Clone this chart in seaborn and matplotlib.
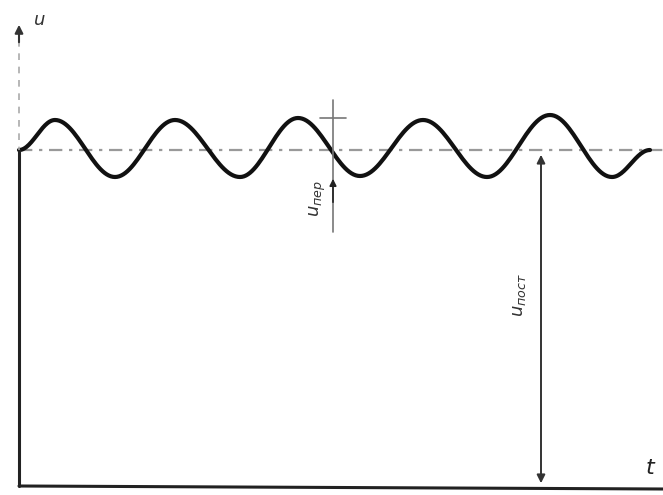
import numpy as np
import pandas as pd
import matplotlib.pyplot as plt
import seaborn as sns

# extrema of the ripple curve (picture coordinates, y grows downward)
ext_x = [19, 55, 115, 175, 240, 298, 360, 423, 487, 550, 612, 650]
ext_y = [150, 120, 177, 120, 177, 118, 176, 120, 177, 115, 177, 150]

base_y = 150       # u_пост level
axis_y = 486       # time axis
axis_x = 19        # voltage axis
per_x = 333        # u_пер marker
post_x = 541       # u_пост marker

# half-cosine segments between the read-off extrema
xs, ys = [], []
for i in range(len(ext_x) - 1):
    s = np.linspace(0, 1, 30)
    xs += list(ext_x[i] + (ext_x[i + 1] - ext_x[i]) * s)
    ys += list(ext_y[i] + (ext_y[i + 1] - ext_y[i]) * (1 - np.cos(np.pi * s)) / 2)
df = pd.DataFrame({'t': xs, 'u': ys})

sns.set_style('white')
fig = plt.figure(figsize=(6.63, 4.95), dpi=100)
ax = fig.add_axes([0, 0, 1, 1])
ax.set_xlim(0, 663)
ax.set_ylim(495, 0)
ax.axis('off')

# baseline (dash-dot)
ax.plot([axis_x, 663], [base_y, base_y], color='#999999', lw=1.6, ls=(0, (6, 3, 1.5, 3)))

# ripple
sns.lineplot(data=df, x='t', y='u', color='#111111', lw=3, ax=ax, sort=False)

# axes
ax.plot([axis_x, axis_x], [base_y, axis_y], color='#222222', lw=2.2)
ax.plot([axis_x, axis_x], [40, base_y], color='#aaaaaa', lw=1.2, ls=(0, (4, 4)))
ax.annotate('', xy=(axis_x, 22), xytext=(axis_x, 45),
            arrowprops=dict(arrowstyle='-|>', color='#333333', lw=1.5, mutation_scale=12))
ax.plot([axis_x, 663], [axis_y, axis_y + 3], color='#222222', lw=2.2)

# u_пер marker
ax.plot([per_x, per_x], [100, 232], color='#777777', lw=1.2)
ax.plot([320, 346], [118, 118], color='#777777', lw=1.2)
ax.annotate('', xy=(per_x, 176), xytext=(per_x, 205),
            arrowprops=dict(arrowstyle='-|>', color='#222222', lw=1.2, mutation_scale=10))

# u_пост marker
ax.annotate('', xy=(post_x, base_y + 2), xytext=(post_x, axis_y),
            arrowprops=dict(arrowstyle='<|-|>', color='#333333', lw=1.4, mutation_scale=12))

tk = dict(color='#333333', style='italic', fontsize=13)
ax.text(40, 20, 'u', ha='center', va='center', **tk)
ax.text(650, 468, 't', ha='center', va='center', fontsize=16, color='#222222', style='italic')
ax.text(318, 198, 'u$_{пер}$', rotation=90, ha='center', va='center', **tk)
ax.text(519, 295, 'u$_{пост}$', rotation=90, ha='center', va='center', **tk)

fig.savefig('out.png', dpi=100, facecolor='white')
